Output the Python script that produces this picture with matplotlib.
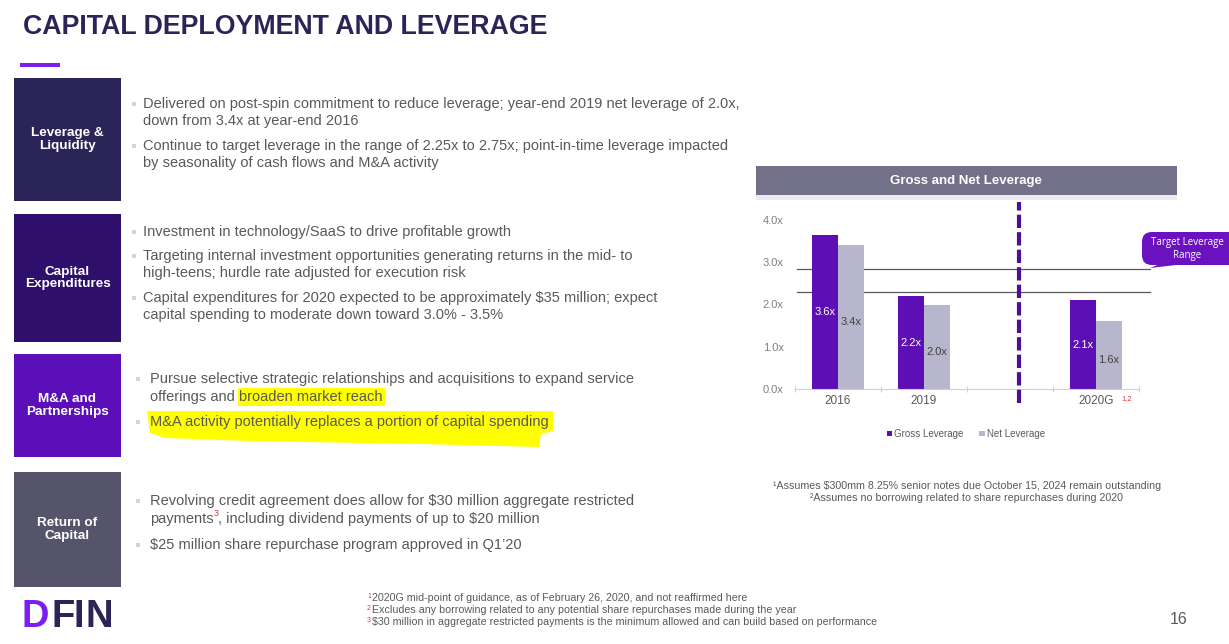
import numpy as np
import matplotlib
matplotlib.use("Agg")
import matplotlib.pyplot as plt
from matplotlib.patches import Rectangle, FancyBboxPatch, Polygon

W, H = 1229, 644

# ---------------- data ----------------
categories = ['2016', '2019', '', '2020G']
gross = [3.64, 2.2, np.nan, 2.1]
net = [3.41, 2.0, np.nan, 1.6]
gross_labels = ['3.6x', '2.2x', '', '2.1x']
net_labels = ['3.4x', '2.0x', '', '1.6x']
target_range = [2.3, 2.85]
yticks = [0, 1, 2, 3, 4]
ytick_labels = ['0.0x', '1.0x', '2.0x', '3.0x', '4.0x']
series_names = ['Gross Leverage', 'Net Leverage']

title = 'CAPITAL DEPLOYMENT AND LEVERAGE'
chart_title = 'Gross and Net Leverage'
box_labels = ['Leverage &\nLiquidity', 'Capital\nExpenditures', 'M&A and\nPartnerships', 'Return of\nCapital']
sec1 = ['Delivered on post-spin commitment to reduce leverage; year-end 2019 net leverage of 2.0x,',
        'down from 3.4x at year-end 2016',
        'Continue to target leverage in the range of 2.25x to 2.75x; point-in-time leverage impacted',
        'by seasonality of cash flows and M&A activity']
sec2 = ['Investment in technology/SaaS to drive profitable growth',
        'Targeting internal investment opportunities generating returns in the mid- to',
        'high-teens; hurdle rate adjusted for execution risk',
        'Capital expenditures for 2020 expected to be approximately $35 million; expect',
        'capital spending to moderate down toward 3.0% - 3.5%']
sec3 = ['Pursue selective strategic relationships and acquisitions to expand service',
        'offerings and broaden market reach',
        'M&A activity potentially replaces a portion of capital spending']
sec4 = ['Revolving credit agreement does allow for $30 million aggregate restricted',
        'payments',
        '$25 million share repurchase program approved in Q1\u201920']
chart_notes = ['\u00b9Assumes $300mm 8.25% senior notes due October 15, 2024 remain outstanding',
               '\u00b2Assumes no borrowing related to share repurchases during 2020']
foot_notes = ['2020G mid-point of guidance, as of February 26, 2020, and not reaffirmed here',
              'Excludes any borrowing related to any potential share repurchases made during the year',
              '$30 million in aggregate restricted payments is the minimum allowed and can build based on performance']

# ---------------- figure ----------------
plt.rcParams['font.family'] = ['Liberation Sans', 'DejaVu Sans']
fig = plt.figure(figsize=(W / 100, H / 100), dpi=100)
fig.patch.set_facecolor('white')


def fx(x):
    return x / W


def fy(y):
    return 1 - y / H


def ftext(x, y, s, **kw):
    return fig.text(fx(x), fy(y), s, transform=fig.transFigure, **kw)


def frect(x0, y0, x1, y1, **kw):
    r = Rectangle((fx(x0), fy(y1)), (x1 - x0) / W, (y1 - y0) / H, transform=fig.transFigure, **kw)
    fig.patches.append(r)
    return r


TEXT = '#595959'
NAVY = '#2b2557'
BFS = 10.5

# Title
ftext(23, 27, title, fontsize=19.3, fontweight='bold', color=NAVY, va='center', ha='left')
frect(20, 63, 60, 67, color='#7b1ff0', lw=0)

# Left boxes
boxes = [(78, 201, '#2b2557'), (214, 342, '#2e0f6b'), (354, 457, '#5b0fb8'), (472, 587, '#55546a')]
for (y0, y1, c), lab in zip(boxes, box_labels):
    frect(14, y0, 121, y1, color=c, lw=0)
    ftext(67.5, (y0 + y1) / 2, lab, fontsize=9.7, fontweight='bold', color='white',
          ha='center', va='center', linespacing=1.08)

# Highlights
frect(238, 388, 385, 406, color='#ffff00', lw=0, zorder=0)
hl = Polygon([(fx(147), fy(411)), (fx(553), fy(411)), (fx(553), fy(431)), (fx(541), fy(434)),
              (fx(539), fy(447)), (fx(420), fy(444)), (fx(250), fy(441)), (fx(165), fy(438)),
              (fx(150), fy(433))], closed=True, transform=fig.transFigure, color='#ffff00', lw=0, zorder=0)
fig.patches.append(hl)


def bullets(x, bx, lines, ys, bullet_idx):
    for i, (s, y) in enumerate(zip(lines, ys)):
        ftext(x, y, s, fontsize=BFS, color=TEXT, va='center', ha='left')
        if i in bullet_idx:
            frect(bx - 2, y - 2, bx + 2, y + 2, color='#d4d4d4', lw=0)


bullets(143, 134, sec1, [104, 121, 146, 163], [0, 2])
bullets(143, 134, sec2, [232, 256, 273, 298, 315], [0, 1, 3])
bullets(150, 138, sec3, [379, 397, 422], [0, 2])
bullets(150, 138, sec4, [501, 519, 545], [0, 2])
# payments superscript and rest of line
fig.canvas.draw()
t = [tt for tt in fig.texts if tt.get_text() == sec4[1]][0]
bb = t.get_window_extent()
px_end = bb.x1
ftext(px_end + 0.5, 514, '3', fontsize=6.5, color='#e0393e', va='center', ha='left')
ftext(px_end + 4.5, 519, ', including dividend payments of up to $20 million', fontsize=BFS,
      color=TEXT, va='center', ha='left')

# Footnotes bottom
for i, (s, y) in enumerate(zip(foot_notes, [598, 610, 622])):
    ftext(367, y - 2, str(i + 1), fontsize=5, color='#e0393e', va='center', ha='left')
    ftext(372, y, s, fontsize=7.7, color=TEXT, va='center', ha='left')

# Page number
ftext(1179, 619, '16', fontsize=11.5, color=TEXT, va='center', ha='center')

# Logo
for ch, lx, col in [('D', 21, '#7b1ff0'), ('F', 51, NAVY), ('I', 73, NAVY), ('N', 86, NAVY)]:
    ftext(lx, 617, ch, fontsize=27.5, fontweight='heavy', color=col, va='center', ha='left')

# Chart banner
frect(756, 195, 1177, 200, color='#ececf0', lw=0)
frect(756, 166, 1177, 195, color='#73718a', lw=0)
ftext(966, 181, chart_title, fontsize=9.5, fontweight='bold', color='white', ha='center', va='center')

# ---------------- chart axes ----------------
ax = fig.add_axes([fx(795), fy(389), 344 / W, 169 / H])
x = np.arange(len(categories))
bw = 0.3
ax.bar(x - bw / 2, gross, bw, color='#5c0fb5', zorder=2, label=series_names[0])
ax.bar(x + bw / 2, net, bw, color='#b8b6cc', zorder=2, label=series_names[1])
for xi, g, n, gl, nl in zip(x, gross, net, gross_labels, net_labels):
    if gl:
        ax.text(xi - bw / 2, g / 2, gl, color='white', fontsize=8, ha='center', va='center', zorder=3)
    if nl:
        ax.text(xi + bw / 2, n / 2 - 0.12, nl, color='#404040', fontsize=8, ha='center', va='center', zorder=3)

ax.set_xlim(-0.5, len(categories) - 0.5)
ax.set_ylim(0, 4)
for v in target_range:
    ax.axhline(v, xmin=0.005, xmax=(1150 - 795) / 344, color='#5a5a5a', lw=0.9, zorder=1, clip_on=False)
ax.plot([2.1, 2.1], [-0.33, 4.43], color='#4b0f9a', lw=3, ls=(0, (3.2, 1)), clip_on=False, zorder=4)

ax.set_yticks(yticks)
ax.set_yticklabels(ytick_labels)
ax.set_xticks(x)
ax.set_xticklabels(categories)
ax.set_xticks(np.arange(len(categories) + 1) - 0.5, minor=True)
ax.tick_params(axis='y', length=0, pad=8, labelsize=8, labelcolor='#7f7f7f')
ax.tick_params(axis='x', which='major', length=0, pad=4, labelsize=8.5, labelcolor=TEXT)
ax.tick_params(axis='x', which='minor', length=5, direction='inout', color='#d0d0d0', width=0.8)
for s in ['top', 'right', 'left']:
    ax.spines[s].set_visible(False)
ax.spines['bottom'].set_color('#d0d0d0')
ax.set_facecolor('none')

ax.text(3.36, -0.22, '1,2', transform=ax.transData, fontsize=5.5, color='#e0393e', ha='center', va='center')

leg = ax.legend(loc='center', bbox_to_anchor=(fx(966), fy(434)), bbox_transform=fig.transFigure,
                ncol=2, frameon=False, fontsize=7, handlelength=0.55, handleheight=0.55,
                handletextpad=0.25, columnspacing=1.6)
for tx in leg.get_texts():
    tx.set_color(TEXT)

# Target callout
cb = FancyBboxPatch((fx(1142), fy(265)), (1240 - 1142) / W, 33 / H,
                    boxstyle='round,pad=0,rounding_size=0.008', transform=fig.transFigure,
                    color='#6a12c0', lw=0, mutation_aspect=W / H)
fig.patches.append(cb)
tail = Polygon([(fx(1150), fy(268)), (fx(1160), fy(264)), (fx(1185), fy(264))], closed=True,
               transform=fig.transFigure, color='#6a12c0', lw=0)
fig.patches.append(tail)
ftext(1187, 249, 'Target Leverage\nRange', fontsize=7, color='white', ha='center', va='center',
      linespacing=1.3, family=['Open Sans', 'DejaVu Sans'])

# Chart footnotes
ftext(967, 486, chart_notes[0], fontsize=7.65, color=TEXT, ha='center', va='center')
ftext(966, 498, chart_notes[1], fontsize=7.65, color=TEXT, ha='center', va='center')

fig.savefig('out.png', dpi=100)
